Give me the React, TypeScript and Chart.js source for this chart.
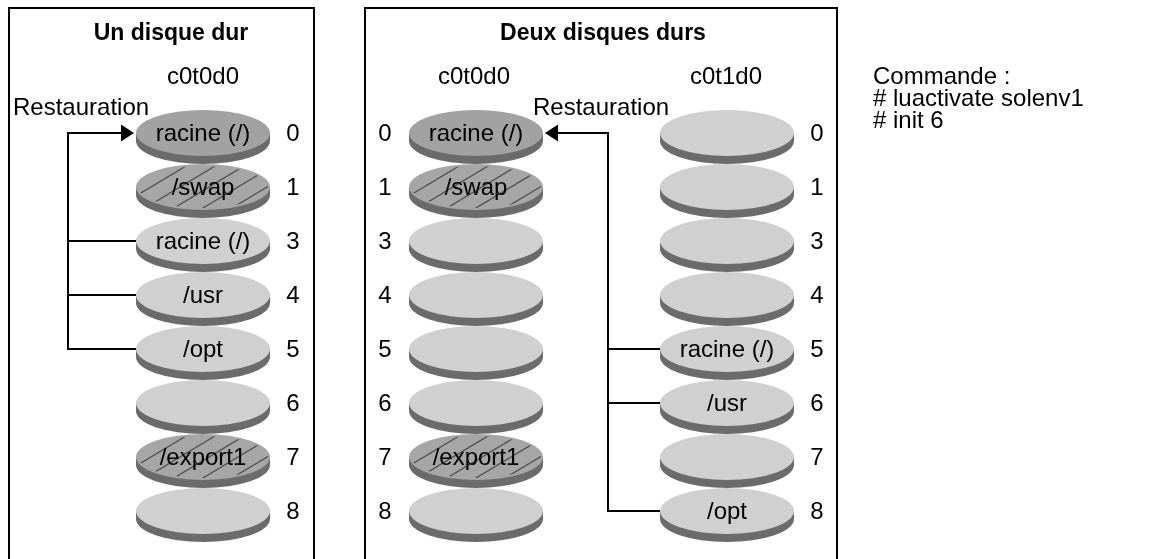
import React, { useEffect, useRef } from 'react';
import { Chart, registerables } from 'chart.js';

Chart.register(...registerables);

// ---------- data ----------
const sliceNumbers = ['0', '1', '3', '4', '5', '6', '7', '8'];
const panelTitles = ['Un disque dur', 'Deux disques durs'];
const diskNames = ['c0t0d0', 'c0t0d0', 'c0t1d0'];
const disk1Labels = ['racine (/)', '/swap', 'racine (/)', '/usr', '/opt', '', '/export1', ''];
const disk1Kinds = ['active', 'swap', 'plain', 'plain', 'plain', 'plain', 'swap', 'plain'];
const disk2Labels = ['racine (/)', '/swap', '', '', '', '', '/export1', ''];
const disk2Kinds = ['active', 'swap', 'plain', 'plain', 'plain', 'plain', 'swap', 'plain'];
const disk3Labels = ['', '', '', '', 'racine (/)', '/usr', '', '/opt'];
const disk3Kinds = ['plain', 'plain', 'plain', 'plain', 'plain', 'plain', 'plain', 'plain'];
const restoreLabel = 'Restauration';
const restore1Sources = ['3', '4', '5'];
const restore1Target = '0';
const restore2Sources = ['5', '6', '8'];
const restore2Target = '0';
const commandLines = ['Commande :', '# luactivate solenv1', '# init 6'];

const diskLabels = [disk1Labels, disk2Labels, disk3Labels];
const diskKinds = [disk1Kinds, disk2Kinds, disk3Kinds];

// ---------- layout / style ----------
const W = 1152;
const H = 559;
const FONT = '"Liberation Sans", Arial, Helvetica, sans-serif';
const FONT_SIZE = 24;
const TITLE_SIZE = 23;
const ROW_PX0 = 133; // pixel of row 0
const ROW_STEP = 54; // pixel step between rows
const ROW_MIN = -ROW_PX0 / ROW_STEP;
const ROW_MAX = ROW_MIN + H / ROW_STEP;

const columnX = [203, 476, 727];
const numberX = [293, 385, 817];
const nameX = [203, 474, 726];
const NAME_BASE = 84;
const panels = [
  { left: 9, right: 314, top: 8, titleX: 171 },
  { left: 365, right: 837, top: 8, titleX: 603 },
];
const TITLE_BASE = 40;
const restoreGroups = [
  { sourceCol: 0, targetCol: 0, busX: 68, sources: restore1Sources, target: restore1Target, labelX: 13, labelBase: 115 },
  { sourceCol: 2, targetCol: 1, busX: 608, sources: restore2Sources, target: restore2Target, labelX: 533, labelBase: 115 },
];
const COMMAND_X = 873;
const COMMAND_BASE = 84;
const COMMAND_STEP = 22;

const DISK_RX = 67;
const DISK_RY = 23;
const DISK_H = 8;
const COLORS = {
  plain: '#d0d0d0',
  active: '#a2a2a2',
  swap: '#a6a6a6',
  band: '#6b6b6b',
  hatch: '#505050',
  ink: '#000000',
};

function drawDisk(ctx: CanvasRenderingContext2D, cx: number, cy: number, kind: string, label: string) {
  ctx.save();
  ctx.fillStyle = COLORS.band;
  ctx.beginPath();
  ctx.ellipse(cx, cy + DISK_H, DISK_RX, DISK_RY, 0, 0, Math.PI * 2);
  ctx.fill();
  ctx.fillRect(cx - DISK_RX, cy, DISK_RX * 2, DISK_H);
  ctx.fillStyle = (COLORS as any)[kind] || COLORS.plain;
  ctx.beginPath();
  ctx.ellipse(cx, cy, DISK_RX, DISK_RY, 0, 0, Math.PI * 2);
  ctx.fill();
  if (kind === 'swap') {
    ctx.save();
    ctx.beginPath();
    ctx.ellipse(cx, cy, DISK_RX - 2, DISK_RY - 2, 0, 0, Math.PI * 2);
    ctx.clip();
    ctx.strokeStyle = COLORS.hatch;
    ctx.lineWidth = 1.3;
    const slope = 0.6;
    const dx = (2 * DISK_RY) / slope;
    for (let k = -5; k <= 5; k++) {
      const x0 = cx - dx / 2 + k * 29 + 6;
      ctx.beginPath();
      ctx.moveTo(x0, cy + DISK_RY);
      ctx.lineTo(x0 + dx, cy - DISK_RY);
      ctx.stroke();
    }
    ctx.restore();
  }
  if (label) {
    ctx.fillStyle = COLORS.ink;
    ctx.font = `${FONT_SIZE}px ${FONT}`;
    ctx.textAlign = 'center';
    ctx.textBaseline = 'middle';
    ctx.fillText(label, cx, cy + 1);
  }
  ctx.restore();
}

const diagramPlugin = {
  id: 'diskDiagram',
  beforeDraw(chart: any) {
    const ctx: CanvasRenderingContext2D = chart.ctx;
    ctx.save();
    ctx.fillStyle = '#ffffff';
    ctx.fillRect(0, 0, chart.width, chart.height);
    ctx.restore();
  },
  afterDatasetsDraw(chart: any) {
    const ctx: CanvasRenderingContext2D = chart.ctx;
    const xs = chart.scales.x;
    const ps = chart.scales.py;
    const px = (v: number) => xs.getPixelForValue(v);
    const py = (v: number) => ps.getPixelForValue(v);
    const pt = (col: number, slice: string) => {
      const meta = chart.getDatasetMeta(col);
      const el = meta.data[sliceNumbers.indexOf(slice)];
      return { x: el.x, y: el.y };
    };

    ctx.save();
    // panels
    ctx.strokeStyle = COLORS.ink;
    ctx.lineWidth = 2;
    panels.forEach((p, i) => {
      ctx.beginPath();
      ctx.moveTo(px(p.left), py(H + 10));
      ctx.lineTo(px(p.left), py(p.top));
      ctx.lineTo(px(p.right), py(p.top));
      ctx.lineTo(px(p.right), py(H + 10));
      ctx.stroke();
      ctx.fillStyle = COLORS.ink;
      ctx.font = `bold ${TITLE_SIZE}px ${FONT}`;
      ctx.textAlign = 'center';
      ctx.textBaseline = 'alphabetic';
      ctx.fillText(panelTitles[i], px(p.titleX), py(TITLE_BASE));
    });

    // disk names
    ctx.font = `${FONT_SIZE}px ${FONT}`;
    ctx.textAlign = 'center';
    ctx.textBaseline = 'alphabetic';
    diskNames.forEach((n, c) => ctx.fillText(n, px(nameX[c]), py(NAME_BASE)));

    // restore connectors
    restoreGroups.forEach((g) => {
      const bus = px(g.busX);
      const tgt = pt(g.targetCol, g.target);
      const tgtEdge = bus < tgt.x ? tgt.x - DISK_RX - 2 : tgt.x + DISK_RX + 2;
      const dir = bus < tgt.x ? 1 : -1;
      const srcPts = g.sources.map((s) => pt(g.sourceCol, s));
      const lastY = Math.max(...srcPts.map((p) => p.y));
      ctx.strokeStyle = COLORS.ink;
      ctx.lineWidth = 2;
      ctx.beginPath();
      ctx.moveTo(bus, tgt.y - 1);
      ctx.lineTo(bus, lastY + 1);
      ctx.stroke();
      ctx.beginPath();
      ctx.moveTo(bus - dir, tgt.y);
      ctx.lineTo(tgtEdge - dir * 12, tgt.y);
      ctx.stroke();
      ctx.fillStyle = COLORS.ink;
      ctx.beginPath();
      ctx.moveTo(tgtEdge, tgt.y);
      ctx.lineTo(tgtEdge - dir * 13, tgt.y - 8.5);
      ctx.lineTo(tgtEdge - dir * 13, tgt.y + 8.5);
      ctx.closePath();
      ctx.fill();
      srcPts.forEach((p) => {
        const edge = bus < p.x ? p.x - DISK_RX : p.x + DISK_RX;
        ctx.beginPath();
        ctx.moveTo(bus - (bus < p.x ? 1 : -1), p.y);
        ctx.lineTo(edge, p.y);
        ctx.stroke();
      });
      ctx.font = `${FONT_SIZE}px ${FONT}`;
      ctx.textAlign = 'left';
      ctx.textBaseline = 'alphabetic';
      ctx.fillText(restoreLabel, px(g.labelX), py(g.labelBase));
    });

    // disks (bottom-up so upper platters overlap lower ones)
    for (let c = 0; c < diskNames.length; c++) {
      const meta = chart.getDatasetMeta(c);
      for (let i = sliceNumbers.length - 1; i >= 0; i--) {
        const el = meta.data[i];
        drawDisk(ctx, el.x, el.y, diskKinds[c][i], diskLabels[c][i]);
      }
      ctx.fillStyle = COLORS.ink;
      ctx.font = `${FONT_SIZE}px ${FONT}`;
      ctx.textAlign = 'center';
      ctx.textBaseline = 'middle';
      for (let i = 0; i < sliceNumbers.length; i++) {
        const el = meta.data[i];
        ctx.fillText(sliceNumbers[i], px(numberX[c]), el.y + 1);
      }
    }

    // command text
    ctx.fillStyle = COLORS.ink;
    ctx.font = `${FONT_SIZE}px ${FONT}`;
    ctx.textAlign = 'left';
    ctx.textBaseline = 'alphabetic';
    commandLines.forEach((l, i) => ctx.fillText(l, px(COMMAND_X), py(COMMAND_BASE + i * COMMAND_STEP)));
    ctx.restore();
  },
};

export default function App() {
  const ref = useRef<HTMLCanvasElement | null>(null);
  useEffect(() => {
    if (!ref.current) return;
    const chart = new Chart(ref.current, {
      type: 'scatter',
      data: {
        datasets: diskNames.map((name, c) => ({
          label: name,
          data: sliceNumbers.map((_, i) => ({ x: columnX[c], y: i })),
          pointRadius: 0,
          pointHoverRadius: 0,
          showLine: false,
        })),
      },
      options: {
        animation: false,
        responsive: false,
        maintainAspectRatio: false,
        devicePixelRatio: 1,
        events: [],
        layout: { padding: 0, autoPadding: false },
        plugins: { legend: { display: false }, tooltip: { enabled: false }, title: { display: false } },
        scales: {
          x: { type: 'linear', min: 0, max: W, display: false },
          y: { type: 'linear', min: ROW_MIN, max: ROW_MAX, reverse: true, display: false },
          py: { type: 'linear', axis: 'y', min: 0, max: H, reverse: true, display: false },
        },
      } as any,
      plugins: [diagramPlugin],
    });
    return () => chart.destroy();
  }, []);
  return (
    <div style={{ position: 'fixed', left: 0, top: 0, width: W, height: H, background: '#fff' }}>
      <canvas ref={ref} width={W} height={H} style={{ display: 'block', width: W, height: H }} />
    </div>
  );
}
